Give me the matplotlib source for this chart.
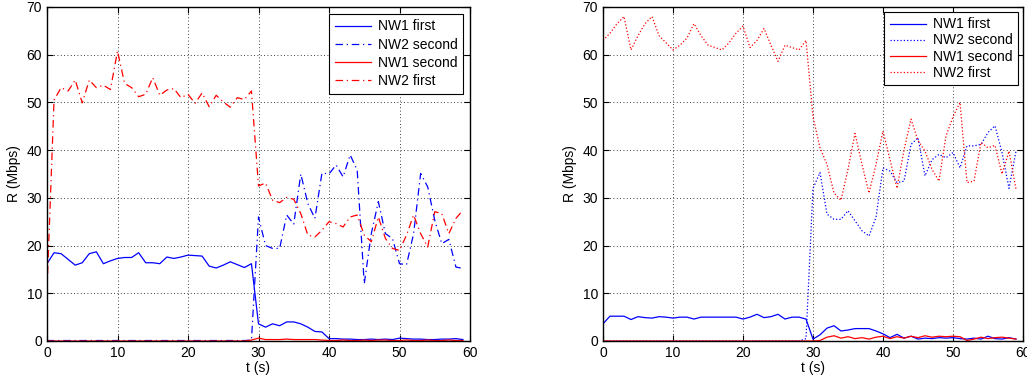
import numpy as np
import matplotlib.pyplot as plt

plt.rcParams['font.family'] = ['Liberation Sans', 'DejaVu Sans']
plt.rcParams['font.size'] = 10

t = list(range(60))

# left panel
a_nw1_first = [16.2, 18.5, 18.3, 17.1, 15.9, 16.4, 18.3, 18.7, 16.2, 16.8,
               17.3, 17.5, 17.5, 18.5, 16.4, 16.4, 16.2, 17.6, 17.3, 17.6,
               18.0, 17.9, 17.8, 15.7, 15.3, 15.9, 16.6, 16.0, 15.4, 16.2,
               3.6, 2.9, 3.6, 3.2, 4.0, 4.0, 3.6, 2.9, 2.0, 1.9,
               0.5, 0.5, 0.4, 0.4, 0.3, 0.3, 0.4, 0.3, 0.4, 0.3,
               0.6, 0.5, 0.4, 0.4, 0.3, 0.3, 0.4, 0.4, 0.5, 0.3]
a_nw2_second = [0.1] * 29 + [
               0.2, 26.0, 20.0, 19.4, 19.4, 26.4, 24.5, 35.0, 28.8, 25.7,
               35.2, 35.0, 36.9, 34.4, 39.0, 35.8, 12.0, 22.5, 29.2, 22.5,
               21.5, 16.2, 16.0, 22.5, 35.1, 32.3, 25.3, 20.4, 21.3, 15.5, 15.2][:31]
a_nw1_second = [0.0] * 29 + [
               0.2, 0.6, 0.3, 0.3, 0.3, 0.4, 0.3, 0.3, 0.3, 0.3, 0.2,
               0.1, 0.1, 0.2, 0.1, 0.1, 0.2, 0.1, 0.2, 0.2, 0.1,
               0.1, 0.2, 0.1, 0.1, 0.2, 0.1, 0.1, 0.2, 0.1, 0.1][:31]
a_nw2_first = [10.7, 50.5, 53.1, 52.4, 54.7, 49.9, 54.7, 53.1, 53.6, 52.7,
               60.8, 54.0, 53.1, 51.2, 51.7, 55.2, 51.5, 52.6, 52.9, 51.0,
               51.7, 49.8, 52.0, 49.1, 51.5, 50.1, 49.0, 51.0, 50.6, 52.4,
               32.5, 33.1, 29.5, 29.0, 30.1, 29.7, 26.7, 22.2, 21.8, 23.2,
               25.0, 24.6, 23.9, 26.0, 26.4, 22.2, 20.8, 26.0, 21.5, 19.4,
               19.0, 22.2, 26.4, 22.5, 19.7, 27.1, 26.7, 22.5, 25.7, 27.4]

# right panel
b_nw1_first = [3.6, 5.2, 5.2, 5.2, 4.5, 5.1, 4.9, 4.8, 5.1, 5.0,
               4.8, 5.0, 5.0, 4.6, 5.0, 5.0, 5.0, 5.0, 5.0, 5.0,
               4.6, 5.0, 5.6, 4.9, 5.1, 5.6, 4.6, 5.0, 5.0, 4.6,
               0.4, 1.3, 2.7, 3.2, 2.1, 2.3, 2.6, 2.6, 2.6, 2.1,
               1.5, 0.7, 1.4, 0.6, 1.0, 0.4, 0.6, 0.5, 0.7, 0.6,
               0.7, 0.5, 0.4, 0.6, 0.4, 1.0, 0.5, 0.4, 0.7, 0.4]
b_nw2_second = [0.0] * 29 + [
               0.5, 32.0, 35.3, 26.6, 25.5, 25.5, 27.3, 25.2, 23.1, 22.0, 25.9,
               36.3, 35.6, 33.2, 33.5, 41.2, 42.6, 34.6, 38.0, 39.1, 38.4,
               39.5, 36.3, 40.9, 40.9, 41.2, 43.7, 45.1, 39.5, 32.0, 39.8][:31]
b_nw1_second = [0.0] * 31 + [
               0.1, 0.8, 1.1, 0.6, 0.9, 0.5, 0.7, 0.4, 0.8,
               1.0, 0.5, 0.9, 0.6, 1.0, 0.7, 1.1, 0.8, 1.0, 0.9,
               1.0, 0.9, 0.1, 0.4, 0.8, 0.5, 0.7, 0.8, 0.6, 0.4][:29]
b_nw2_first = [63.0, 64.5, 66.5, 68.0, 61.0, 64.0, 66.5, 68.0, 64.0, 62.5,
               61.0, 62.0, 63.5, 66.5, 64.0, 62.0, 61.5, 61.0, 62.5, 64.5,
               66.0, 61.5, 63.0, 65.5, 62.0, 58.6, 62.0, 61.5, 61.0, 63.0,
               47.0, 40.5, 37.0, 31.0, 29.5, 36.0, 43.5, 37.0, 31.0, 37.0,
               44.0, 38.0, 32.0, 40.0, 46.5, 42.0, 39.8, 36.0, 33.5, 43.0,
               47.0, 50.0, 33.2, 33.5, 41.6, 40.5, 41.0, 35.0, 39.8, 31.8]

fig = plt.figure(figsize=(10.27, 3.80), dpi=100)
ax1 = fig.add_axes([47 / 1027, 39 / 380, 423 / 1027, 334 / 380])
ax2 = fig.add_axes([603 / 1027, 39 / 380, 420 / 1027, 334 / 380])

lw = 0.9
ax1.plot(t, a_nw1_first, color='b', lw=lw, label='NW1 first')
ax1.plot(t, a_nw2_second, color='b', lw=lw, ls=(0, (6, 3, 1, 3)), label='NW2 second')
ax1.plot(t, a_nw1_second, color='r', lw=lw, label='NW1 second')
ax1.plot(t, a_nw2_first, color='r', lw=lw, ls=(0, (6, 3, 1, 3)), label='NW2 first')

ax2.plot(t, b_nw1_first, color='b', lw=lw, label='NW1 first')
ax2.plot(t, b_nw2_second, color='b', lw=lw, ls=':', label='NW2 second')
ax2.plot(t, b_nw1_second, color='r', lw=lw, label='NW1 second')
ax2.plot(t, b_nw2_first, color='r', lw=lw, ls=':', label='NW2 first')

for ax in (ax1, ax2):
    ax.set_xlim(0, 60)
    ax.set_ylim(0, 70)
    ax.set_xticks(range(0, 61, 10))
    ax.set_yticks(range(0, 71, 10))
    ax.grid(True, color='k', ls=(0, (1, 3)), lw=0.6)
    ax.tick_params(direction='in', top=True, right=True, length=4, labelsize=10)
    for s in ax.spines.values():
        s.set_linewidth(1.0)
    ax.set_xlabel('t (s)', labelpad=1)
    ax.set_ylabel('R (Mbps)', labelpad=4)

leg = ax1.legend(loc='upper right', fancybox=False, framealpha=1, edgecolor='k',
                 handlelength=2.6, handletextpad=0.5, labelspacing=0.3,
                 borderaxespad=0.5)
leg.get_frame().set_linewidth(0.8)
leg = ax2.legend(loc='upper right', fancybox=False, framealpha=1, edgecolor='k',
                 handlelength=2.6, handletextpad=0.5, labelspacing=0.15,
                 borderaxespad=0.35)
leg.get_frame().set_linewidth(0.8)

plt.savefig('out.png', dpi=100)
